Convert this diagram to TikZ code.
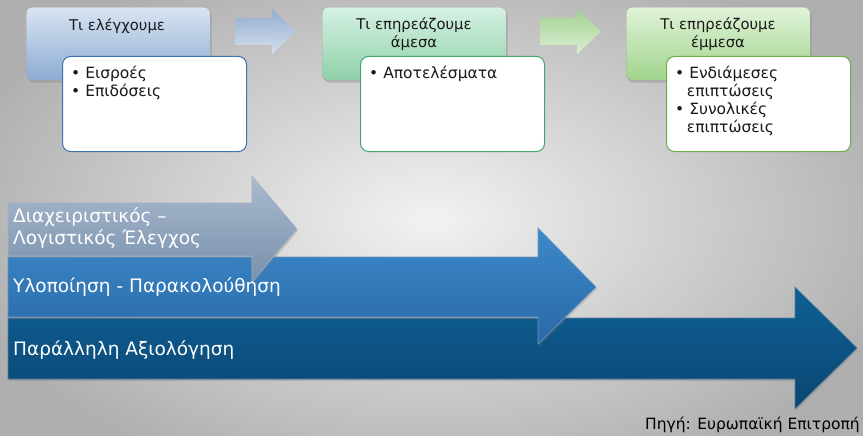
\documentclass[tikz,border=0pt]{standalone}
\usepackage{fontspec}
\setmainfont{DejaVu Sans}
\usetikzlibrary{positioning, shadows}

\definecolor{bgin}{HTML}{F2F2F2}
\definecolor{bgout}{HTML}{AFAFAF}
\definecolor{hblueT}{HTML}{D8E4F2}
\definecolor{hblueB}{HTML}{8DABD2}
\definecolor{hgreenT}{HTML}{D6F1E3}
\definecolor{hgreenB}{HTML}{8ED0A8}
\definecolor{hlimeT}{HTML}{E0F3D8}
\definecolor{hlimeB}{HTML}{A0D48C}
\definecolor{lblue}{HTML}{3C72B0}
\definecolor{lgreen}{HTML}{3FA86E}
\definecolor{llime}{HTML}{6AAE4A}
\definecolor{arAT}{HTML}{AABACE}
\definecolor{arAB}{HTML}{7890AB}
\definecolor{arBT}{HTML}{3C89CA}
\definecolor{arBB}{HTML}{2A69A6}
\definecolor{arCT}{HTML}{0F6095}
\definecolor{arCB}{HTML}{0A4672}

\tikzset{
  hdr/.style={draw=gray!70, rounded corners=6pt, anchor=north west,
    minimum width=184pt, minimum height=73pt, inner sep=0pt,
    drop shadow={opacity=0.35, shadow xshift=1.5pt, shadow yshift=-2.5pt}},
  hdrtext/.style={align=center, text=black!90,
    font=\fontsize{14.8}{18}\selectfont},
  cbox/.style={fill=white, rounded corners=8pt, anchor=north west,
    minimum width=184pt, minimum height=95pt, inner sep=0pt, line width=1pt},
  ctext/.style={anchor=north west, align=left, inner sep=0pt, text=black!90,
    font=\fontsize{15.5}{18}\selectfont},
  chev/.style={opacity=0.9},
  bigarrow/.style={draw=#1!70!white, line width=0.6pt,
    drop shadow={opacity=0.3, shadow xshift=1pt, shadow yshift=-2pt}},
  arrtext/.style={anchor=west, align=left, inner sep=0pt, text=white,
    font=\fontsize{18.5}{22}\selectfont}
}

\newcommand{\hang}{\hphantom{•\,}}

\begin{document}
\begin{tikzpicture}[x=1pt, y=-1pt]
  \useasboundingbox (0,0) rectangle (863,436);
  \shade[inner color=bgin, outer color=bgout] (-60,-60) rectangle (923,496);

  % top row: what we check / what we affect
  \node[hdr, top color=hblueT, bottom color=hblueB] (h1) at (26,7) {};
  \node[hdrtext] (h1t) at (117,26) {Τι ελέγχουμε};
  \node[cbox, draw=lblue] (c1) at (62,56) {};
  \node[ctext, below right=10pt and 9pt of c1.north west] (c1t)
    {• Εισροές\\• Επιδόσεις};

  \path[chev, top color=hblueB, bottom color=hblueT]
    (235,18) -- (272,18) -- (272,9) -- (296,31.5) -- (272,54) -- (272,45) -- (235,45) -- cycle;

  \node[hdr, top color=hgreenT, bottom color=hgreenB] (h2) at (322,7) {};
  \node[hdrtext] (h2t) at (414,34) {Τι επηρεάζουμε\\άμεσα};
  \node[cbox, draw=lgreen] (c2) at (360,56) {};
  \node[ctext, below right=10pt and 9pt of c2.north west] (c2t)
    {• Αποτελέσματα};

  \path[chev, top color=hlimeB, bottom color=hlimeT]
    (540,18) -- (577,18) -- (577,9) -- (601,31.5) -- (577,54) -- (577,45) -- (540,45) -- cycle;

  \node[hdr, top color=hlimeT, bottom color=hlimeB] (h3) at (626,7) {};
  \node[hdrtext] (h3t) at (718,34) {Τι επηρεάζουμε\\έμμεσα};
  \node[cbox, draw=llime] (c3) at (666,56) {};
  \node[ctext, below right=10pt and 9pt of c3.north west] (c3t)
    {• Ενδιάμεσες\\\hang επιπτώσεις\\• Συνολικές\\\hang επιπτώσεις};

  % bottom: the three long arrows
  \path[bigarrow=arCB, top color=arCT, bottom color=arCB]
    (8,318) -- (795,318) -- (795,287) -- (857,348) -- (795,409) -- (795,379) -- (8,379) -- cycle;
  \path[bigarrow=arBB, top color=arBT, bottom color=arBB]
    (8,257) -- (538,257) -- (538,228) -- (596,287) -- (538,344) -- (538,317) -- (8,317) -- cycle;
  \path[bigarrow=arAB, top color=arAT, bottom color=arAB]
    (8,203) -- (252,203) -- (252,176) -- (297,229) -- (252,282) -- (252,256) -- (8,256) -- cycle;

  \node[arrtext] (ta) at (13,228) {Διαχειριστικός –\\Λογιστικός Έλεγχος};
  \node[arrtext] (tb) at (13,287) {Υλοποίηση - Παρακολούθηση};
  \node[arrtext] (tc) at (13,350) {Παράλληλη Αξιολόγηση};

  \node[anchor=east, inner sep=0pt, font=\fontsize{15.5}{17}\selectfont] (src)
    at (860,425) {Πηγή: Ευρωπαϊκή Επιτροπή};
\end{tikzpicture}
\end{document}
